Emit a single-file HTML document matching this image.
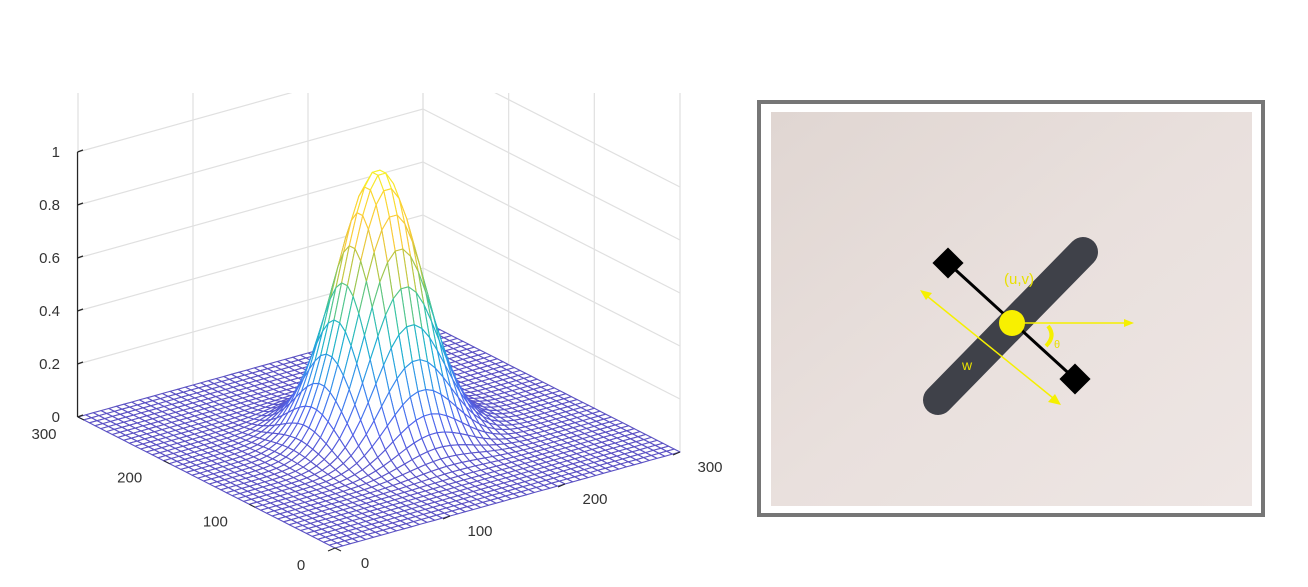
<!DOCTYPE html>
<html><head><meta charset="utf-8">
<style>
html,body{margin:0;padding:0;background:#fff;}
body{width:1308px;height:587px;overflow:hidden;font-family:"Liberation Sans",sans-serif;}
svg{position:absolute;left:0;top:0;}
</style></head>
<body>
<svg id="plot" width="1308" height="587" viewBox="0 0 1308 587">
  <defs><clipPath id="wallclip"><rect x="0" y="93" width="760" height="494"/></clipPath></defs>
</svg>
<script>
// ---- data ----
const xTicks = [0, 100, 200, 300];
const yTicks = [0, 100, 200, 300];
const zTicks = [0, 0.2, 0.4, 0.6, 0.8, 1];
const zTickLabels = ["0", "0.2", "0.4", "0.6", "0.8", "1"];
const gaussPeak = [1.0];
const gaussCenter = [150, 150];
const gaussSigma = [30];
const gridCount = [45];

// ---- projection ----
const O = [335, 548];
const ex = [345/300, -96/300];
const ey = [-257/300, -131/300];
const ez = 265;
function P(x, y, z){ return [O[0]+x*ex[0]+y*ey[0], O[1]+x*ex[1]+y*ey[1]-z*ez]; }
function surf(x, y){ const dx=x-gaussCenter[0], dy=y-gaussCenter[1], s=gaussSigma[0]; return gaussPeak[0]*Math.exp(-(dx*dx+dy*dy)/(2*s*s)); }
const stops=[[0,[92,82,196]],[0.125,[80,100,236]],[0.25,[56,140,240]],[0.375,[30,176,210]],[0.5,[60,198,160]],[0.625,[171,199,70]],[0.75,[250,200,60]],[0.875,[250,214,50]],[1,[246,246,40]]];
function cmap(t){t=Math.max(0,Math.min(1,t));for(let i=1;i<stops.length;i++){if(t<=stops[i][0]){const a=stops[i-1],b=stops[i];const f=(t-a[0])/(b[0]-a[0]);const c=a[1].map((v,k)=>Math.round(v+(b[1][k]-v)*f));return `rgb(${c})`;}}return 'rgb(246,246,40)';}

const svg=document.getElementById('plot');
const NS='http://www.w3.org/2000/svg';
function mk(tag, attrs, parent){const e=document.createElementNS(NS,tag);for(const k in attrs)e.setAttribute(k,attrs[k]);(parent||svg).appendChild(e);return e;}
const pt=a=>a.map(v=>v.toFixed(1)).join(',');

// back walls gridlines
const walls=mk('g',{stroke:'#e0e0e0','stroke-width':1.2,fill:'none','clip-path':'url(#wallclip)'});


zTicks.forEach(z=>{
  const a=P(0,300,z),b=P(300,300,z),c=P(300,0,z);
  const l=mk('polyline',{points:pt(a)+' '+pt(b)+' '+pt(c)},walls);
  
  
});
xTicks.forEach(x=>{const a=P(x,300,0),b=P(x,300,1.6);const l=mk('line',{x1:a[0],y1:a[1],x2:b[0],y2:b[1]},walls);
  
  });
yTicks.forEach(y=>{const a=P(300,y,0),b=P(300,y,1.6);const l=mk('line',{x1:a[0],y1:a[1],x2:b[0],y2:b[1]},walls);
  
  });

// mesh
const mesh=mk('g',{'stroke-width':1.1,fill:'#fff','stroke-linejoin':'round'});


const n=gridCount[0], st=300/n;
const quads=[];
for(let i=0;i<n;i++)for(let j=0;j<n;j++){quads.push([i,j]);}
quads.sort((a,b)=>(b[0]+b[1])-(a[0]+a[1]));
quads.forEach(([i,j])=>{
  const x0=i*st,x1=(i+1)*st,y0=j*st,y1=(j+1)*st;
  const zs=[surf(x0,y0),surf(x1,y0),surf(x1,y1),surf(x0,y1)];
  const pts=[P(x0,y0,zs[0]),P(x1,y0,zs[1]),P(x1,y1,zs[2]),P(x0,y1,zs[3])];
  const zm=(zs[0]+zs[1]+zs[2]+zs[3])/4;
  const q=mk('polygon',{points:pts.map(pt).join(' '),stroke:cmap(zm)},mesh);
  
  
});

// z axis
const za=mk('g',{stroke:'#262626','stroke-width':1.2,fill:'none'});


const zb=P(0,300,0),zt=P(0,300,1);
mk('line',{x1:zb[0]-0.5,y1:zb[1],x2:zt[0]-0.5,y2:zt[1]},za);
zTicks.forEach((z,k)=>{
  const p=P(0,300,z);
  mk('line',{x1:p[0]-0.5,y1:p[1],x2:p[0]+5,y2:p[1]-2},za);
  const t=mk('text',{x:p[0]-18,y:p[1]+5,'text-anchor':'end','font-size':15,fill:'#333',stroke:'none'});
  t.textContent=zTickLabels[k];
  
  
});
// floor axes tick labels
yTicks.forEach(y=>{
  const p=P(0,y,0);
  const tk=mk('line',{x1:p[0],y1:p[1],x2:p[0]+6,y2:p[1]+3,stroke:'#262626','stroke-width':1});
  
  
  const t=mk('text',{x:p[0]-34,y:p[1]+22,'text-anchor':'middle','font-size':15,fill:'#333'});
  t.textContent=String(y);
  
  
});
xTicks.forEach(x=>{
  const p=P(x,0,0);
  const tk=mk('line',{x1:p[0],y1:p[1],x2:p[0]-7,y2:p[1]+3,stroke:'#262626','stroke-width':1});
  
  
  const t=mk('text',{x:p[0]+30,y:p[1]+20,'text-anchor':'middle','font-size':15,fill:'#333'});
  t.textContent=String(x);
  
  
});
</script>

<svg width="1308" height="587" viewBox="0 0 1308 587">
  <defs>
    <linearGradient id="bg" x1="0" y1="0" x2="1" y2="1">
      <stop offset="0" stop-color="#e0d6d2"/>
      <stop offset="0.5" stop-color="#e9e0dd"/>
      <stop offset="1" stop-color="#eee6e4"/>
    </linearGradient>
  </defs>
  <rect x="759" y="102" width="504" height="413" fill="#fff" stroke="#767676" stroke-width="4"/>
  <rect x="771" y="112" width="481" height="394" fill="url(#bg)"/>
  <line x1="938" y1="400" x2="1083" y2="252" stroke="#3f4149" stroke-width="30" stroke-linecap="round"/>
  <line x1="948" y1="263" x2="1075" y2="379" stroke="#000" stroke-width="3"/>
  <rect x="937" y="252" width="22" height="22" fill="#000" transform="rotate(45 948 263)"/>
  <rect x="1064" y="368" width="22" height="22" fill="#000" transform="rotate(45 1075 379)"/>
  <line x1="922" y1="292" x2="1058" y2="402" stroke="#f5f000" stroke-width="1.5"/>
  <polygon points="920,290 932,293 926,300" fill="#f5f000"/>
  <polygon points="1061,405 1048,402 1055,394" fill="#f5f000"/>
  <line x1="1012" y1="323" x2="1130" y2="323" stroke="#f5f000" stroke-width="1.5"/>
  <polygon points="1134,323 1124,319 1124,327" fill="#f5f000"/>
  <path d="M1048 326 Q1056 336 1046 346" fill="none" stroke="#f5f000" stroke-width="4"/>
  <circle cx="1012" cy="323" r="13" fill="#f8f000"/>
  <text x="1004" y="284" font-size="15" fill="#e8e000">(u,v)</text>
  <text x="962" y="370" font-size="14" fill="#e8e000">w</text>
  <text x="1054" y="348" font-size="11" fill="#e8e000">θ</text>
</svg>
</body></html>
